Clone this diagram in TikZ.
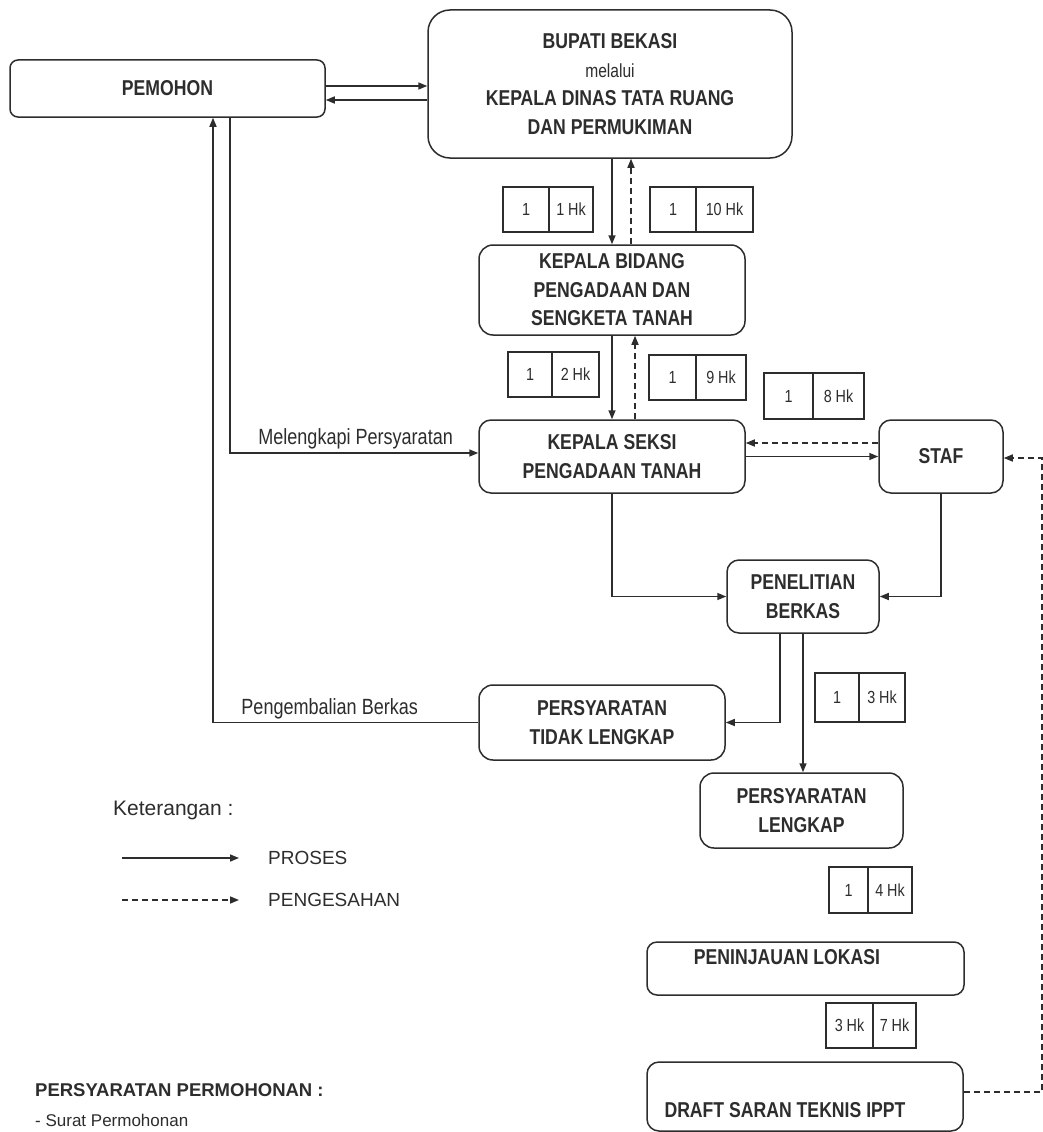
\documentclass[tikz,border=0pt]{standalone}
\usepackage{fontspec}
\setmainfont{Liberation Sans}
\newfontfamily\narrowfont{Liberation Sans}[FakeStretch=0.82]
\usetikzlibrary{arrows.meta,calc}
\definecolor{ink}{RGB}{45,45,45}
\tikzset{
  box/.style={draw=ink, line width=1.5pt, rounded corners=12pt, align=center,
    font=\narrowfont\fontsize{21.5}{28.5}\selectfont\bfseries, text=ink, inner sep=0pt},
  cell/.style={draw=ink, line width=1.3pt, inner sep=0pt,
    font=\narrowfont\fontsize{17.5}{19}\selectfont, text=ink},
  proc/.style={draw=ink, line width=1.5pt, -{Triangle[length=9pt,width=7pt]}},
  pengesahan/.style={proc, dash pattern=on 6pt off 4pt},
  lbl/.style={text=ink, font=\narrowfont\fontsize{22}{24}\selectfont, inner sep=3pt},
  boxtext/.style={text=ink, font=\narrowfont\fontsize{21.5}{24}\selectfont\bfseries, inner sep=0pt},
  legend/.style={text=ink, font=\fontsize{19}{22}\selectfont, anchor=west, inner sep=0pt},
}
\newcommand{\hkbox}[8]{%
  \pgfmathsetmacro\hka{(#2+#3)/2}\pgfmathsetmacro\hkb{(#3+#4)/2}\pgfmathsetmacro\hkc{(#5+#6)/2}%
  \pgfmathsetmacro\hkwa{#3-#2}\pgfmathsetmacro\hkwb{#4-#3}\pgfmathsetmacro\hkh{#6-#5}%
  \node[cell, minimum width=\hkwa pt, minimum height=\hkh pt] (#1a) at (\hka,\hkc) {#7};
  \node[cell, minimum width=\hkwb pt, minimum height=\hkh pt] (#1b) at (\hkb,\hkc) {#8};}
\begin{document}
\begin{tikzpicture}[x=1pt,y=-1pt]
\fill[white] (0,0) rectangle (1043,1132);
\useasboundingbox (0,0) rectangle (1043,1132);

% main boxes
\node[box, minimum width=315pt, minimum height=57pt, rounded corners=8pt] (pem) at (167.5,88.5) {PEMOHON};
\node[box, minimum width=364pt, minimum height=148pt, rounded corners=22pt] (bup) at (610,84)
  {BUPATI BEKASI\\{\mdseries\fontsize{19}{28.5}\selectfont melalui}\\KEPALA DINAS TATA RUANG\\DAN PERMUKIMAN};
\node[box, minimum width=266pt, minimum height=90pt, rounded corners=14pt] (kb) at (612,290)
  {KEPALA BIDANG\\PENGADAAN DAN\\SENGKETA TANAH};
\node[box, minimum width=266pt, minimum height=73pt] (ks) at (612,456.5)
  {KEPALA SEKSI\\PENGADAAN TANAH};
\node[box, minimum width=124pt, minimum height=73pt] (staf) at (941,456.5) {STAF};
\node[box, minimum width=152pt, minimum height=73pt] (pb) at (803,596.5) {PENELITIAN\\BERKAS};
\node[box, minimum width=246pt, minimum height=75pt, rounded corners=14pt] (ptl) at (602,722.5)
  {PERSYARATAN\\TIDAK LENGKAP};
\node[box, minimum width=203pt, minimum height=75pt, rounded corners=14pt] (pl) at (801.5,810.5)
  {PERSYARATAN\\LENGKAP};
\node[box, minimum width=317pt, minimum height=53pt, rounded corners=10pt] (lok) at (805.5,968.5) {};
\node[boxtext] (lokt) at (787,957) {PENINJAUAN LOKASI};
\node[box, minimum width=316pt, minimum height=69pt] (dr) at (805,1096.5) {};
\node[boxtext] (drt) at (785,1110) {DRAFT SARAN TEKNIS IPPT};

% time boxes
\hkbox{ta}{503}{549}{593}{187}{232}{1}{1 Hk}
\hkbox{tb}{650}{696}{753}{187}{232}{1}{10 Hk}
\hkbox{tc}{508}{552}{599}{352}{397}{1}{2 Hk}
\hkbox{td}{649}{696}{746}{355}{400}{1}{9 Hk}
\hkbox{te}{764}{813}{864}{373}{419}{1}{8 Hk}
\hkbox{tf}{815}{859}{905}{673}{722}{1}{3 Hk}
\hkbox{tg}{829}{868}{912}{867}{913}{1}{4 Hk}
\hkbox{th}{826}{873}{916}{1003}{1048}{3 Hk}{7 Hk}

% connectors
\draw[proc] ([yshift=2.5pt]pem.east) -- ([yshift=-2pt]bup.west);
\draw[proc] ([yshift=-16pt]bup.west) -- ([yshift=-11.5pt]pem.east);
\draw[proc] (bup.south -| kb.north) -- (kb.north);
\draw[pengesahan] ([xshift=19pt]kb.north) -- ([xshift=19pt]kb.north |- bup.south);
\draw[proc] (kb.south) -- (ks.north);
\draw[pengesahan] ([xshift=23pt]ks.north) -- ([xshift=23pt]ks.north |- kb.south);
\draw[proc] (ks.east) -- (staf.west);
\draw[pengesahan] ([yshift=13.5pt]staf.west) -- ([yshift=13.5pt]ks.east);
\draw[proc] (ks.south) |- (pb.west);
\draw[proc] (staf.south) |- (pb.east);
\draw[proc] ([xshift=-23pt]pb.south) |- (ptl.east);
\draw[proc] (pb.south) -- (pb.south |- pl.north);
\draw[proc] (ptl.west) -| node[lbl, above, pos=0.28] (lblA) {Pengembalian Berkas} ([xshift=45.5pt]pem.south);
\draw[proc] ([xshift=62.5pt]pem.south) |- node[lbl, above, pos=0.753] (lblB) {Melengkapi Persyaratan} ([yshift=3.5pt]ks.west);
\draw[pengesahan] ([yshift=4.5pt]dr.east) -- ++(78,0) |- ([yshift=-1.5pt]staf.east);

% legend
\node[legend, font=\fontsize{21}{24}\selectfont] (ket) at (113,810) {Keterangan :};
\coordinate (lgA1) at (122,858);
\coordinate (lgA2) at (239,858);
\coordinate (lgB1) at (122,900);
\coordinate (lgB2) at (239,900);
\draw[proc] (lgA1) -- (lgA2);
\draw[pengesahan] (lgB1) -- (lgB2);
\node[legend] (lgP) at (268,858) {PROSES};
\node[legend] (lgS) at (268,900) {PENGESAHAN};
\node[legend, font=\fontsize{18.5}{22}\selectfont\bfseries] (req) at (35,1090) {PERSYARATAN PERMOHONAN :};
\node[legend, font=\fontsize{17}{20}\selectfont] (req1) at (35,1120) {- Surat Permohonan};
\end{tikzpicture}
\end{document}
